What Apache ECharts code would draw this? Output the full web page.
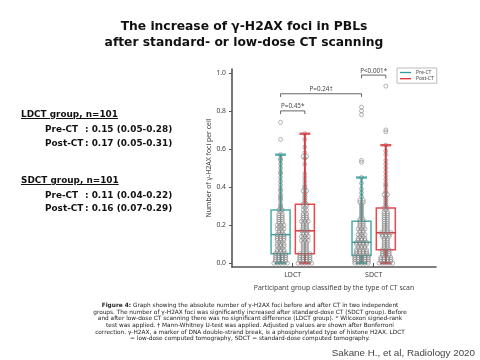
<!DOCTYPE html>
<html>
<head>
<meta charset="utf-8">
<script src="https://cdn.jsdelivr.net/npm/echarts@6/dist/echarts.min.js"></script>
<style>
  html,body{margin:0;padding:0;background:#fff;}
  #wrap{position:relative;width:480px;height:360px;overflow:hidden;background:#fff;}
  #chart{position:absolute;left:0;top:0;width:480px;height:360px;}
  .t{position:absolute;white-space:nowrap;color:#111;line-height:1;}
  .title{left:0;width:488px;text-align:center;font-family:"DejaVu Sans";font-weight:bold;font-size:12.3px;}
  .side{font-family:"DejaVu Sans";font-weight:bold;font-size:8.9px;}
  .side .lab{display:inline-block;width:40px;}
  .cap{left:0;width:500px;text-align:center;font-family:"DejaVu Sans";font-size:5.8px;line-height:6.67px;color:#222;}
  .cite{right:5px;font-family:"Liberation Sans";font-size:9.8px;color:#444;}
</style>
</head>
<body>
<div id="wrap">
  <div id="chart"></div>
  <div class="t title" style="top:19.5px;">The increase of γ-H2AX foci in PBLs</div>
  <div class="t title" style="top:36px;">after standard- or low-dose CT scanning</div>

  <div class="t side" style="left:21px;top:109.8px;text-decoration:underline;">LDCT group, n=101</div>
  <div class="t side" style="left:45px;top:125.2px;"><span class="lab">Pre-CT</span>: 0.15 (0.05-0.28)</div>
  <div class="t side" style="left:45px;top:138.7px;"><span class="lab">Post-CT</span>: 0.17 (0.05-0.31)</div>
  <div class="t side" style="left:21px;top:176.2px;text-decoration:underline;">SDCT group, n=101</div>
  <div class="t side" style="left:45px;top:190.8px;"><span class="lab">Pre-CT</span>: 0.11 (0.04-0.22)</div>
  <div class="t side" style="left:45px;top:204.2px;"><span class="lab">Post-CT</span>: 0.16 (0.07-0.29)</div>

  <div class="t cap" style="top:302px;"><b>Figure 4:</b> Graph showing the absolute number of γ-H2AX foci before and after CT in two independent<br>groups. The number of γ-H2AX foci was significantly increased after standard-dose CT (SDCT group). Before<br>and after low-dose CT scanning there was no significant difference (LDCT group). * Wilcoxon signed-rank<br>test was applied. † Mann-Whitney U-test was applied. Adjusted p values are shown after Bonferroni<br>correction. γ-H2AX, a marker of DNA double-strand break, is a phosphorylated type of histone H2AX. LDCT<br>= low-dose computed tomography, SDCT = standard-dose computed tomography.</div>

  <div class="t cite" style="top:347.5px;">Sakane H., et al, Radiology 2020</div>
</div>
<script>
// ---------------- data ----------------
const categories = ['LDCT', 'SDCT'];
const groupNames = ['Pre-CT', 'Post-CT'];
const yTickValues = [0, 0.2, 0.4, 0.6, 0.8, 1.0];

// individual values (foci per cell)
const ldctPre = [0,0,0,0,0, .01,.01,.01,.01, .02,.02,.02,.02, .03,.03,.03,.03, .04,.04,.04,.04, .05,.05,.05,.05,
  .06,.06,.06, .07,.07,.07, .08,.08, .09,.09,.09, .10,.10,.10, .11,.11, .12,.12,.12, .13,.13,.13, .14,.14,.14, .15,.15,.15,
  .16,.16, .17,.17, .18,.18,.18, .19,.19, .20,.20,.20, .21,.21, .22,.22, .23,.23, .24,.24, .25,.25, .26,.26, .27, .28,.28,
  .29,.30,.31,.33,.34,.35,.36,.38,.39,.41,.43,.45,.47,.48,.50,.52,.54,.55,.57, .65,.74];
const ldctPost = [0,0,0,0,0, .01,.01,.01,.01, .02,.02,.02,.02, .03,.03,.03,.03, .04,.04,.04,.04, .05,.05,.05,.05,
  .06,.06, .07,.07, .08,.08, .09,.09, .10,.10, .11,.11, .12,.12,.12, .13,.13, .14,.14,.14, .15,.15, .16,.16, .17,.17,.17,
  .18,.18, .19,.19, .20,.20, .21,.21, .22,.22,.22, .23,.23, .24,.24, .25,.25, .26,.26, .27, .28,.28, .29, .30,.30, .31,.31,
  .32,.33,.34,.35,.36,.37,.38,.38,.39,.40,.41,.43,.45,.47,.52,.55,.56,.56,.58,.61,.65,.68];
const sdctPre = [0,0,0,0,0, .01,.01,.01,.01,.01, .02,.02,.02,.02,.02, .03,.03,.03,.03,.03, .04,.04,.04,.04,.04,
  .05,.05,.05,.05, .06,.06,.06,.06, .07,.07,.07,.07, .08,.08,.08, .09,.09,.09, .10,.10,.10,.10, .11,.11,.11,.11,
  .12,.12,.12, .13,.13,.13, .14,.14, .15,.15,.15, .16,.16, .17,.17, .18,.18,.18, .19,.19, .20,.20, .21,.21, .22,.22,
  .23,.23,.24,.25,.26,.27,.28,.29,.30,.31,.32,.32,.33,.33,.35,.37,.39,.42,.45, .53,.54,.78,.80,.82];
const sdctPost = [0,0,0,0,0, .01,.01,.01,.01, .02,.02,.02,.02, .03,.03,.03,.03, .04,.04,.04, .05,.05,.05, .06,.06,.06, .07,.07,.07,
  .08,.08, .09,.09, .10,.10, .11,.11, .12,.12, .13,.13, .14,.14,.14, .15,.15,.15, .16,.16,.16,.16,
  .17,.17, .18,.18, .19,.19, .20,.20, .21,.21, .22,.22, .23,.23, .24,.24, .25,.25, .26,.26, .27,.27, .28, .29,.29,
  .30,.31,.32,.33,.34,.35,.36,.36,.37,.38,.40,.41,.42,.44,.46,.48,.50,.52,.54,.57,.59,.62, .69,.70,.93];

// box statistics [lower whisker, Q1, median, Q3, upper whisker] per category
const boxPre  = [[0, 0.05, 0.15, 0.28, 0.57], [0, 0.04, 0.11, 0.22, 0.45]];
const boxPost = [[0, 0.05, 0.17, 0.31, 0.68], [0, 0.07, 0.16, 0.29, 0.62]];

// significance brackets
const pLabels   = ['P=0.45*', 'P=0.24†', 'P<0.001*'];
const pBarY     = [0.80, 0.89, 0.988];

// ---------------- layout ----------------
const catPos = [0.75, 1.75];
const groupShift = [-0.15, 0.15];
const DOT_DX = 3.4 / 81;
const COLORS = ['#2a9d9a', '#e5282d'];
const bracketEnds = [[[0,0],[0,1]], [[0,0],[1,0]], [[1,0],[1,1]]]; // [cat, group] pairs

function gx(c, g) { return catPos[c] + groupShift[g]; }

function dotLayout(values, xc) {
  const counts = {}, seen = {};
  values.forEach(v => { const k = Math.round(v * 100); counts[k] = (counts[k] || 0) + 1; });
  return values.map(v => {
    const k = Math.round(v * 100);
    const i = seen[k] || 0; seen[k] = i + 1;
    return [xc + (i - (counts[k] - 1) / 2) * DOT_DX, v];
  });
}

const dots = [].concat(
  dotLayout(ldctPre, gx(0,0)), dotLayout(ldctPost, gx(0,1)),
  dotLayout(sdctPre, gx(1,0)), dotLayout(sdctPost, gx(1,1))
);

function boxData(stats, g) {
  return stats.map((s, c) => [gx(c, g)].concat(s));
}

function renderBox(params, api) {
  const x = api.value(0);
  const lo = api.coord([x, api.value(1)]);
  const q1 = api.coord([x, api.value(2)]);
  const md = api.coord([x, api.value(3)]);
  const q3 = api.coord([x, api.value(4)]);
  const hi = api.coord([x, api.value(5)]);
  const color = api.visual('color');
  const hw = 9.5, cw = 5.5;
  const ln = (x1,y1,x2,y2,w,op) => ({type:'line', shape:{x1,y1,x2,y2}, style:{stroke:color, lineWidth:w, opacity:op}});
  return {type:'group', children:[
    ln(hi[0], hi[1], q3[0], q3[1], 2, 0.95),
    ln(lo[0], lo[1], q1[0], q1[1], 2, 0.95),
    ln(hi[0]-cw, hi[1], hi[0]+cw, hi[1], 2.4, 0.8),
    ln(lo[0]-cw, lo[1], lo[0]+cw, lo[1], 2.4, 0.8),
    {type:'rect', shape:{x:q3[0]-hw, y:q3[1], width:hw*2, height:q1[1]-q3[1]},
     style:{fill:'none', stroke:color, lineWidth:1.5, opacity:0.85}},
    ln(md[0]-hw, md[1], md[0]+hw, md[1], 1.5, 0.95)
  ]};
}

const bracketData = pLabels.map((l, i) => {
  const a = bracketEnds[i][0], b = bracketEnds[i][1];
  return [gx(a[0], a[1]), gx(b[0], b[1]), pBarY[i], i];
});

function renderBracket(params, api) {
  const x1 = api.value(0), x2 = api.value(1), y = api.value(2), idx = api.value(3);
  const p1 = api.coord([x1, y]), p2 = api.coord([x2, y]);
  const drop = 3.2;
  return {type:'group', children:[
    {type:'polyline', shape:{points:[[p1[0], p1[1]+drop],[p1[0], p1[1]],[p2[0], p2[1]],[p2[0], p2[1]+drop]]},
     style:{stroke:'#555', lineWidth:0.9, fill:null}},
    {type:'text', x:(p1[0]+p2[0])/2, y:p1[1]-1.2,
     style:{text:pLabels[idx], fill:'#444', fontSize:6.3, fontFamily:'Noto Sans', align:'center', verticalAlign:'bottom'}}
  ]};
}

const chart = echarts.init(document.getElementById('chart'), null, {renderer:'canvas'});
const axisColor = '#555';
const txt = {fontFamily:'Noto Sans', color:'#444'};
chart.setOption({
  animation:false,
  grid:{left:232, right:44, top:69, bottom:93, containLabel:false},
  legend:{
    data:[{name:'Pre-CT', icon:'rect'}, {name:'Post-CT', icon:'rect'}],
    orient:'vertical', left:397, top:68, itemWidth:11, itemHeight:1.3, itemGap:1.2,
    padding:[2,3,2,3], borderColor:'#aaa', borderWidth:0.8, selectedMode:false,
    textStyle:Object.assign({fontSize:5}, txt)
  },
  xAxis:{
    type:'value', min:0, max:2.52,
    splitLine:{show:false},
    axisLine:{onZero:false, lineStyle:{color:axisColor, width:1.6}},
    axisTick:{customValues:catPos, inside:true, length:4, lineStyle:{color:axisColor, width:1}},
    axisLabel:Object.assign({customValues:catPos, fontSize:7, margin:4.5,
      formatter:v => categories[catPos.indexOf(v)] || ''}, txt),
    name:'Participant group classified by the type of CT scan', nameLocation:'middle', nameGap:17.5,
    nameTextStyle:Object.assign({fontSize:6.9}, txt)
  },
  yAxis:{
    type:'value', min:-0.02, max:1.02,
    splitLine:{show:false},
    axisLine:{onZero:false, lineStyle:{color:axisColor, width:1.6}},
    axisTick:{customValues:yTickValues, length:3, lineStyle:{color:axisColor, width:1}},
    axisLabel:Object.assign({customValues:yTickValues, fontSize:6.8, margin:6,
      formatter:v => v.toFixed(1)}, txt),
    name:'Number of γ-H2AX foci per cell', nameLocation:'middle', nameGap:18, nameRotate:90,
    nameTextStyle:Object.assign({fontSize:6.9}, txt)
  },
  series:[
    {name:groupNames[0], type:'custom', renderItem:renderBox, data:boxData(boxPre, 0),
     itemStyle:{color:COLORS[0]}, color:COLORS[0], z:2, encode:{x:0, y:[1,2,3,4,5]}},
    {name:groupNames[1], type:'custom', renderItem:renderBox, data:boxData(boxPost, 1),
     itemStyle:{color:COLORS[1]}, color:COLORS[1], z:2, encode:{x:0, y:[1,2,3,4,5]}},
    {name:'points', type:'scatter', data:dots, symbolSize:4, z:3,
     itemStyle:{color:'rgba(255,255,255,0)', borderColor:'#7c7c7c', borderWidth:0.7}},
    {name:'brackets', type:'custom', renderItem:renderBracket, data:bracketData, z:4,
     encode:{x:[0,1], y:2}}
  ]
});
</script>
</body>
</html>
